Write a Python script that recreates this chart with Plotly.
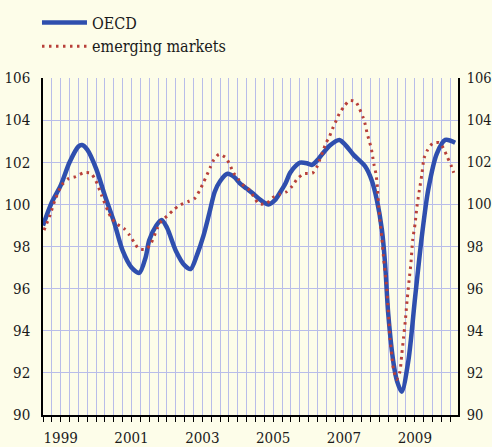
import plotly.graph_objects as go

# ---- data (decimal years, index values) ----
oecd_t = [1999.0, 1999.25, 1999.5, 1999.75, 2000.0, 2000.1, 2000.25, 2000.5, 2000.75, 2001.0,
          2001.25, 2001.5, 2001.72, 2001.9, 2002.0, 2002.2, 2002.35, 2002.5, 2002.75, 2003.0,
          2003.17, 2003.35, 2003.53, 2003.7, 2003.85, 2004.0, 2004.21, 2004.4, 2004.56, 2004.75,
          2004.94, 2005.15, 2005.37, 2005.55, 2005.69, 2005.85, 2005.98, 2006.15, 2006.26, 2006.45,
          2006.59, 2006.75, 2006.87, 2007.1, 2007.37, 2007.55, 2007.77, 2008.1, 2008.28, 2008.43,
          2008.57, 2008.66, 2008.75, 2008.9, 2009.0, 2009.13, 2009.32, 2009.51, 2009.7, 2009.88,
          2010.12, 2010.36, 2010.64]
oecd_v = [99.0, 100.1, 100.9, 102.0, 102.75, 102.82, 102.6, 101.7, 100.4, 99.2,
          97.8, 97.0, 96.75, 97.5, 98.3, 99.0, 99.26, 98.9, 97.8, 97.1,
          96.93, 97.6, 98.5, 99.6, 100.6, 101.1, 101.45, 101.3, 101.0, 100.75,
          100.5, 100.2, 100.0, 100.2, 100.55, 101.0, 101.5, 101.85, 101.98, 101.95,
          101.87, 102.1, 102.35, 102.8, 103.06, 102.8, 102.35, 101.8, 101.16, 100.2,
          98.8, 97.2, 94.8, 92.45, 91.6, 91.1, 92.6, 95.6, 98.5, 100.7,
          102.4, 103.06, 102.93]

em_t = [1999.03, 1999.2, 1999.34, 1999.53, 1999.71, 1999.93, 2000.14, 2000.35, 2000.49, 2000.66,
        2000.83, 2000.94, 2001.1, 2001.29, 2001.44, 2001.57, 2001.7, 2001.91, 2002.05, 2002.23,
        2002.35, 2002.51, 2002.68, 2002.87, 2003.09, 2003.27, 2003.42, 2003.53, 2003.62, 2003.72,
        2003.81, 2003.97, 2004.16, 2004.28, 2004.38, 2004.52, 2004.68, 2004.83, 2004.96, 2005.1,
        2005.32, 2005.48, 2005.68, 2005.88, 2006.04, 2006.18, 2006.37, 2006.61, 2006.73, 2006.82,
        2006.9, 2006.99, 2007.09, 2007.18, 2007.28, 2007.37, 2007.5, 2007.65, 2007.83, 2007.94,
        2008.03, 2008.1, 2008.15, 2008.21, 2008.27, 2008.31, 2008.35, 2008.4, 2008.43, 2008.45,
        2008.48, 2008.52, 2008.57, 2008.61, 2008.66, 2008.71, 2008.74, 2008.77, 2008.8, 2008.85,
        2008.9, 2008.99, 2009.08, 2009.13, 2009.18, 2009.23, 2009.27, 2009.34, 2009.39, 2009.44,
        2009.51, 2009.56, 2009.63, 2009.7, 2009.76, 2009.86, 2010.0, 2010.19, 2010.31, 2010.42,
        2010.52, 2010.6]
em_v = [98.78, 99.5, 100.21, 100.92, 101.21, 101.32, 101.5, 101.48, 101.13, 100.41,
        99.7, 99.32, 99.05, 98.85, 98.55, 98.21, 97.9, 97.87, 98.15, 98.86,
        99.23, 99.45, 99.73, 99.97, 100.13, 100.26, 100.65, 101.03, 101.36, 101.74,
        102.08, 102.38, 102.22, 101.87, 101.5, 101.19, 100.87, 100.68, 100.34, 100.02,
        100.05, 100.32, 100.48, 100.6, 100.87, 101.21, 101.46, 101.48, 101.76, 102.14,
        102.5, 102.9, 103.22, 103.61, 103.98, 104.32, 104.64, 104.93, 104.88, 104.53,
        104.17, 103.8, 103.4, 103.03, 102.66, 102.27, 101.87, 101.48, 101.08, 100.68,
        99.92, 99.18, 98.39, 97.6, 96.8, 96.0, 95.22, 94.43, 93.64, 92.85,
        92.14, 91.69, 92.06, 92.85, 93.64, 94.43, 95.22, 96.41, 97.2, 98.31,
        99.1, 99.89, 100.68, 101.44, 102.19, 102.58, 102.9, 102.93, 102.66, 102.24,
        101.87, 101.5]

series_names = ["OECD", "emerging markets"]
year_labels = ["1999", "2001", "2003", "2005", "2007", "2009"]
y_ticks = [90, 92, 94, 96, 98, 100, 102, 104, 106]

# ---- styling ----
BG = "#fdfde9"
GRID = "#b9bde9"
BLUE = "#2f4fae"
RED = "#b8403a"
FONT = "DejaVu Serif Condensed, DejaVu Serif, serif"
FS = 15

# quarterly tick positions; labels at the middle of the labelled years
quarters = [1999 + q / 4 for q in range(0, 47)]
label_pos = {int(y) + 0.5: y for y in year_labels}
tick_text = [label_pos.get(q, "") for q in quarters]

fig = go.Figure()
fig.add_trace(go.Scatter(x=oecd_t, y=oecd_v, name=series_names[0], mode="lines",
                         line=dict(color=BLUE, width=4.5, shape="spline", smoothing=0.8)))
fig.add_trace(go.Scatter(x=em_t, y=em_v, name=series_names[1], mode="lines",
                         line=dict(color=RED, width=3, dash="2.5px,4.5px", shape="spline", smoothing=0.6)))
# helper trace so the right-hand axis is drawn
fig.add_trace(go.Scatter(x=[em_t[0]], y=[em_v[0]], yaxis="y2", mode="lines",
                         showlegend=False, hoverinfo="skip", line=dict(width=0)))

fig.update_layout(
    width=492, height=447,
    paper_bgcolor=BG, plot_bgcolor=BG,
    margin=dict(l=43, r=34, t=78, b=32, autoexpand=False),
    font=dict(family=FONT, size=FS, color="#1a1a1a"),
    showlegend=True,
    legend=dict(x=-0.0145, y=1.215, xanchor="left", yanchor="top",
                bgcolor="rgba(0,0,0,0)", font=dict(family=FONT, size=16),
                tracegroupgap=0, itemwidth=45),
    xaxis=dict(range=[1999, 2010.72], tickmode="array", tickvals=quarters, ticktext=tick_text,
               ticks="outside", ticklen=5, tickwidth=1, tickcolor="#000",
               showgrid=True, gridcolor=GRID, gridwidth=1.3,
               showline=True, linecolor="#000", linewidth=1.5, zeroline=False,
               ticklabelstandoff=3, automargin=False),
    yaxis=dict(range=[90, 106], tickmode="array", tickvals=y_ticks,
               ticktext=[str(v) for v in y_ticks], ticks="",
               showgrid=True, gridcolor=GRID, gridwidth=1.3,
               showline=True, linecolor="#000", linewidth=1.5, zeroline=False,
               ticklabelstandoff=8, automargin=False),
    yaxis2=dict(range=[90, 106], overlaying="y", side="right", tickmode="array",
                tickvals=y_ticks, ticktext=[str(v) for v in y_ticks], ticks="",
                showgrid=False, showline=True, linecolor="#000", linewidth=1.5,
                zeroline=False, ticklabelstandoff=4, automargin=False,
                tickfont=dict(family=FONT, size=14.5)),
)

fig.write_html("out.html", config={"displayModeBar": False},
               post_script="document.body.style.margin='0';document.body.style.background='#fdfde9';")
